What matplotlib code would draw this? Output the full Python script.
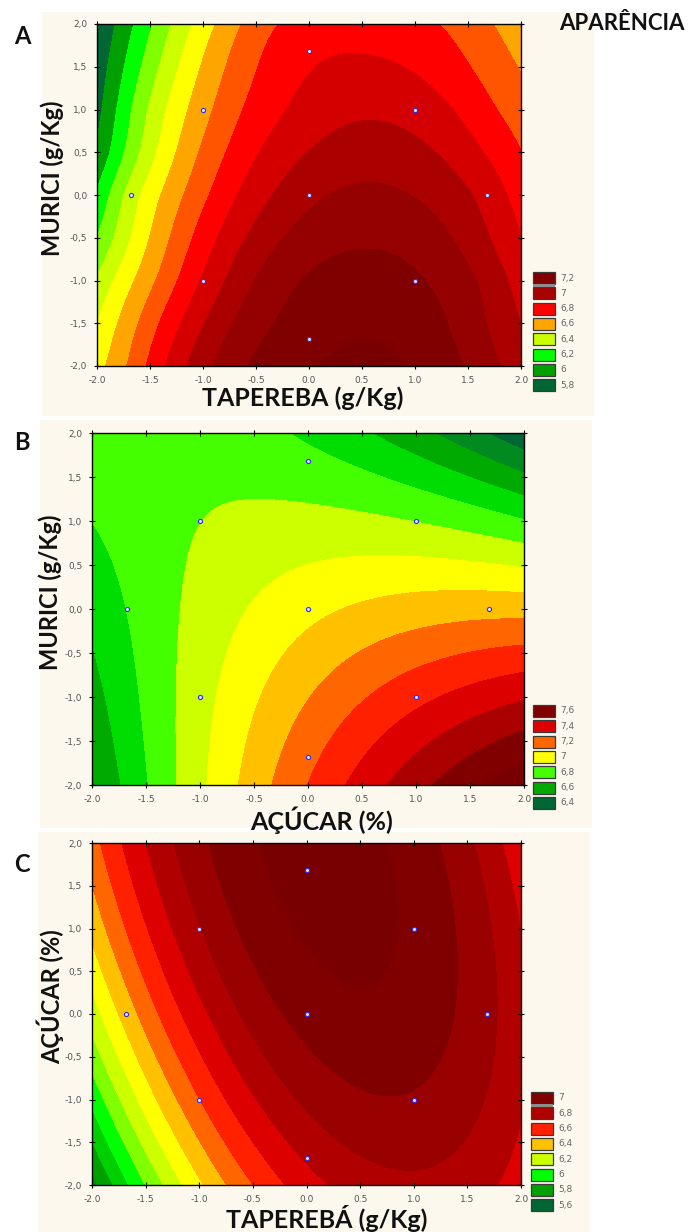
import numpy as np
import matplotlib
matplotlib.use("Agg")
import matplotlib.pyplot as plt
from matplotlib.patches import Rectangle

# coded levels of the central composite design (blue points)
design_x = [-1, 1, -1, 1, -1.68, 1.68, 0, 0, 0]
design_y = [-1, -1, 1, 1, 0, 0, -1.68, 1.68, 0]

# response values as (x, y, z): band edges along the frame,
# along a few rows and at the arch tops; the drawn surface is fitted to them
a_x = [-2, -1.83, -1.65, -1.47, -1.31, -1.1, -0.87, -0.65, -0.33, 0.46, 1.26, 1.74, 2,
       -2, -2, -2, -2, -2, -2, -2,
       -1.9, -1.7, -1.53, -1.37, -1.16, -0.91, -0.6, 0.44, 1.48, 1.79, 2,
       2, 2, 2, 2, 2, 2, 2,
       -1.94, -1.82, -1.68, -1.54, -1.36, -1.13, -0.91, -0.63, -0.18, 1.38, 1.75,
       -1.89, -1.78, -1.62, -1.39, -1.18, -0.93, -0.68, -0.34, 0.16, 0.94, 1.58, 1.88,
       -1.88, -1.64, -1.44, -1.23, -1.03, -0.78, -0.54, -0.1, 1.1, 1.64,
       0.6, 0.62, 0.55, 0.5, 0]
a_y = [2, 2, 2, 2, 2, 2, 2, 2, 2, 2, 2, 2, 2,
       1.2, 0.44, -0.07, -0.54, -0.97, -1.47, -2,
       -2, -2, -2, -2, -2, -2, -2, -2, -2, -2, -2,
       1.4, 1.0, 0.5, 0, -0.6, -1.0, -1.6,
       1, 1, 1, 1, 1, 1, 1, 1, 1, 1, 1,
       0, 0, 0, 0, 0, 0, 0, 0, 0, 0, 0, 0,
       -1, -1, -1, -1, -1, -1, -1, -1, -1, -1,
       1.59, 0.89, 0.15, -0.65, -1.68]
a_z = [6.0, 6.1, 6.2, 6.3, 6.4, 6.5, 6.6, 6.7, 6.8, 6.86, 6.8, 6.7, 6.64,
       6.05, 6.1, 6.2, 6.3, 6.4, 6.5, 6.57,
       6.6, 6.7, 6.8, 6.9, 7.0, 7.1, 7.2, 7.33, 7.2, 7.1, 7.05,
       6.7, 6.75, 6.8, 6.85, 6.9, 6.95, 7.0,
       6.1, 6.2, 6.3, 6.4, 6.5, 6.6, 6.7, 6.8, 6.9, 6.9, 6.8,
       6.3, 6.4, 6.5, 6.6, 6.7, 6.8, 6.9, 7.0, 7.1, 7.1, 7.0, 6.9,
       6.5, 6.6, 6.7, 6.8, 6.9, 7.0, 7.1, 7.2, 7.2, 7.1,
       6.9, 7.0, 7.1, 7.2, 7.25]

b_x = [-2, -1.7, -1.43, -1.19, -0.92, -0.63, -0.35, -0.06, 0.23, 0.68, 1.25, 2,
       -2, -0.18, 0.6, 1.25, 1.66, 2,
       -2, -2, -2, -2,
       2, 2, 2, 2, 2, 2, 2, 2, 2, 2, 2, 2,
       -1.2, -1.18, -1.1, -0.6, 0.0,
       0, -1, 1, 0, 1, -1, -1.68, 1.68, 0]
b_y = [-2, -2, -2, -2, -2, -2, -2, -2, -2, -2, -2, -2,
       2, 2, 2, 2, 2, 2,
       1.4, 0.62, -0.21, -1.0,
       1.85, 1.5, 1.2, 1.0, 0.8, 0.5, 0.19, -0.1, -0.4, -0.67, -0.97, -1.28,
       -1, 0, 0.8, 1.2, 1.25,
       0, 1, 1, -1.68, -1, -1, 0, 0, 1.68]
b_z = [6.62, 6.7, 6.8, 6.9, 7.0, 7.1, 7.2, 7.3, 7.4, 7.5, 7.6, 7.74,
       6.86, 6.8, 6.7, 6.6, 6.5, 6.42,
       6.85, 6.8, 6.7, 6.66,
       6.5, 6.6, 6.7, 6.8, 6.9, 7.0, 7.1, 7.2, 7.3, 7.4, 7.5, 7.6,
       6.9, 6.9, 6.9, 6.9, 6.9,
       7.08, 6.92, 6.88, 7.27, 7.35, 6.95, 6.78, 7.12, 6.82]

c_x = [-2, -1.86, -1.66, -1.45, -1.2, -0.93, -0.42, 0.35, 1.11, 1.28, 1.65, 1.81, 2,
       -1.93, -1.76, -1.62, -1.43, -1.29, -1.12, -0.98, -0.77, -0.5, -0.21, 0.12, 0.93, 1.73, 2,
       -2, -2, -2, -2, -2, -2, -2,
       2, 2, 2, 2,
       -1.78, -1.62, -1.45, -1.22, -0.91, -0.42, 0.04, 1.03, 1.32, 1.55,
       0.74, 0.95, 0, -1, -1, 1, 0, 1]
c_y = [2, 2, 2, 2, 2, 2, 2, 2, 2, 2, 2, 2, 2,
       -2, -2, -2, -2, -2, -2, -2, -2, -2, -2, -2, -2, -2, -2,
       1.3, 0.8, 0.0, -0.6, -1.0, -1.5, -2,
       1.0, 0.0, -1.0, -1.63,
       0, 0, 0, 0, 0, 0, 0, 0, 0, 0,
       -1.18, -1.8, 1.68, 1, -1, -1, -1.68, 1]
c_z = [6.55, 6.6, 6.7, 6.8, 6.9, 7.0, 7.1, 7.17, 7.1, 7.0, 6.9, 6.8, 6.72,
       5.8, 5.9, 6.0, 6.1, 6.2, 6.3, 6.4, 6.5, 6.6, 6.7, 6.8, 6.87, 6.8, 6.75,
       6.5, 6.4, 6.28, 6.15, 6.05, 5.88, 5.74,
       6.8, 6.84, 6.84, 6.8,
       6.4, 6.5, 6.6, 6.7, 6.8, 6.9, 7.0, 7.0, 6.9, 6.87,
       7.0, 6.9, 7.12, 6.88, 6.68, 7.05, 6.88, 7.08]

tick_vals = [-2.0, -1.5, -1.0, -0.5, 0.0, 0.5, 1.0, 1.5, 2.0]
xtick_labels = ["-2.0", "-1.5", "-1.0", "-0.5", "0.0", "0.5", "1.0", "1.5", "2.0"]
ytick_labels = ["-2,0", "-1,5", "-1,0", "-0,5", "0,0", "0,5", "1,0", "1,5", "2,0"]

legend_a = ["7,2", "7", "6,8", "6,6", "6,4", "6,2", "6", "5,8"]
legend_b = ["7,6", "7,4", "7,2", "7", "6,8", "6,6", "6,4"]
legend_c = ["7", "6,8", "6,6", "6,4", "6,2", "6", "5,8", "5,6"]

# contour band edges and the colour of every band (lowest first)
levels_a = [6.1, 6.2, 6.3, 6.4, 6.5, 6.6, 6.7, 6.8, 6.9, 7.0, 7.1, 7.2, 7.3]
colors_a = ["#006633", "#00a000", "#00ff00", "#80ff00", "#ccff00", "#ffff00", "#ffa500",
            "#ff5500", "#ff0000", "#d40000", "#aa0000", "#950000", "#800000", "#780000"]
levels_b = [6.5, 6.6, 6.7, 6.8, 6.9, 7.0, 7.1, 7.2, 7.3, 7.4, 7.5, 7.6, 7.7]
colors_b = ["#006633", "#008a20", "#00aa00", "#00dd00", "#44ff00", "#ccff00", "#ffff00",
            "#ffc000", "#ff6600", "#ff2000", "#dd0000", "#aa0000", "#800000", "#780000"]
levels_c = [5.8, 5.9, 6.0, 6.1, 6.2, 6.3, 6.4, 6.5, 6.6, 6.7, 6.8, 6.9, 7.0, 7.1]
colors_c = ["#008a20", "#00a000", "#00d000", "#00ff00", "#80ff00", "#ccff00",
            "#ffff00", "#ffc000", "#ff6600", "#ff2000", "#dd0000", "#b00000", "#990000",
            "#800000", "#780000"]
leg_colors_a = ["#800000", "#aa0000", "#ff0000", "#ffa500", "#ccff00", "#00ff00", "#00a000", "#006633"]
leg_colors_b = ["#800000", "#dd0000", "#ff6600", "#ffff00", "#44ff00", "#00aa00", "#006633"]
leg_colors_c = ["#800000", "#b00000", "#ff2000", "#ffc000", "#ccff00", "#00ff00", "#00a000", "#006633"]

W, H = 692, 1232
fig = plt.figure(figsize=(W / 100, H / 100), dpi=100)
fig.patch.set_facecolor("white")


def fx(x):
    return x / W


def fy(y):
    return 1 - y / H


def poly_surface(xs, ys, zs, deg):
    # least-squares polynomial response surface
    xs, ys, zs = map(np.asarray, (xs, ys, zs))
    terms = [(i, j) for i in range(deg + 1) for j in range(deg + 1 - i)]
    A = np.column_stack([xs ** i * ys ** j for i, j in terms])
    coef = np.linalg.lstsq(A, zs, rcond=None)[0]
    return lambda X, Y: sum(c * X ** i * Y ** j for c, (i, j) in zip(coef, terms))


def tps_surface(xs, ys, zs, smooth=0.2):
    # smoothing thin-plate spline through the read values
    xs, ys, zs = map(np.asarray, (xs, ys, zs))
    n = len(xs)

    def phi(r):
        return np.where(r > 0, r ** 2 * np.log(np.maximum(r, 1e-12)), 0.0)

    K = phi(np.hypot(xs[:, None] - xs[None, :], ys[:, None] - ys[None, :])) + smooth * np.eye(n)
    P = np.column_stack([np.ones(n), xs, ys])
    M = np.block([[K, P], [P.T, np.zeros((3, 3))]])
    sol = np.linalg.solve(M, np.concatenate([zs, np.zeros(3)]))
    w, v = sol[:n], sol[n:]

    def f(X, Y):
        out = v[0] + v[1] * X + v[2] * Y
        for px, py, wi in zip(xs, ys, w):
            out = out + wi * phi(np.hypot(X - px, Y - py))
        return out
    return f


g = np.linspace(-2, 2, 400)
GX, GY = np.meshgrid(g, g)

panels = [
    (tps_surface(a_x, a_y, a_z), levels_a, colors_a, (97, 24, 521, 366), (42, 12, 594, 416), 37,
     "TAPEREBA (g/Kg)", (303, 398), "MURICI (g/Kg)", (52, 178),
     legend_a, leg_colors_a, (533, 278), True),
    (poly_surface(b_x, b_y, b_z, 3), levels_b, colors_b, (92, 433, 524, 785), (40, 420, 592, 828), 442,
     "AÇÚCAR (%)", (322, 820), "MURICI (g/Kg)", (50, 592),
     legend_b, leg_colors_b, (533, 711), False),
    (poly_surface(c_x, c_y, c_z, 2), levels_c, colors_c, (92, 843, 521, 1185), (38, 832, 590, 1232), 865,
     "TAPEREBÁ (g/Kg)", (327, 1219), "AÇÚCAR (%)", (50, 997),
     legend_c, leg_colors_c, (531, 1098), True),
]

for i, (surf, levels, colors, box, cream, ly, xlab, xlpos, ylab, ylpos,
        leg, legc, legpos, strip) in enumerate(panels):
    fig.patches.append(Rectangle((fx(cream[0]), fy(cream[3])), fx(cream[2] - cream[0]),
                                 (cream[3] - cream[1]) / H, transform=fig.transFigure,
                                 facecolor="#fdf8ed", edgecolor="none", zorder=-10))
    l, t, r, b = box
    ax = fig.add_axes([fx(l), fy(b), fx(r - l), (b - t) / H])
    ax.set_zorder(1)
    Z = surf(GX, GY)
    ax.contourf(GX, GY, Z, levels=[-100] + levels + [100], colors=colors)
    ax.scatter(design_x, design_y, s=9, facecolor="#dfe3ff", edgecolor="#2b2bff",
               linewidth=0.8, zorder=5)
    ax.set_xlim(-2, 2)
    ax.set_ylim(-2, 2)
    ax.set_xticks(tick_vals)
    ax.set_xticklabels(xtick_labels)
    ax.set_yticks(tick_vals)
    ax.set_yticklabels(ytick_labels)
    ax.tick_params(direction="inout", length=4, width=0.8, top=True, right=True,
                   labelsize=6.5, labelcolor="#555555", pad=5)
    for sp in ax.spines.values():
        sp.set_linewidth(1.0)
        sp.set_color("black")

    fig.text(fx(22), fy(ly), "ABC"[i], fontsize=17, fontweight="bold",
             family="Lato", ha="center", va="center", color="#111111")
    fig.text(fx(xlpos[0]), fy(xlpos[1]), xlab, fontsize=18, fontweight="bold",
             family="Lato", ha="center", va="center", color="#111111")
    fig.text(fx(ylpos[0]), fy(ylpos[1]), ylab, fontsize=17, fontweight="bold",
             family="Lato", ha="center", va="center", rotation=90, color="#111111")

    # Statistica-style legend
    x0, y0 = legpos
    step = 15.3
    for k, (lab, col) in enumerate(zip(leg, legc)):
        yc = y0 + k * step
        fig.patches.append(Rectangle((fx(x0), fy(yc + 6)), fx(22), 12 / H,
                                     transform=fig.transFigure, facecolor=col,
                                     edgecolor="#3a3a3a", linewidth=0.9, zorder=3))
        fig.text(fx(x0 + 27), fy(yc), lab, fontsize=6.5, color="#666666",
                 ha="left", va="center")
    if strip:
        fig.patches.append(Rectangle((fx(x0), fy(y0 + step / 2 + 1.5)), fx(22), 3 / H,
                                     transform=fig.transFigure, facecolor="#8c8c8c",
                                     edgecolor="none", zorder=4))

fig.text(fx(622), fy(24), "APARÊNCIA", fontsize=16, fontweight="bold", family="Lato",
         ha="center", va="center", color="#111111")

fig.savefig("out.png", dpi=100)
